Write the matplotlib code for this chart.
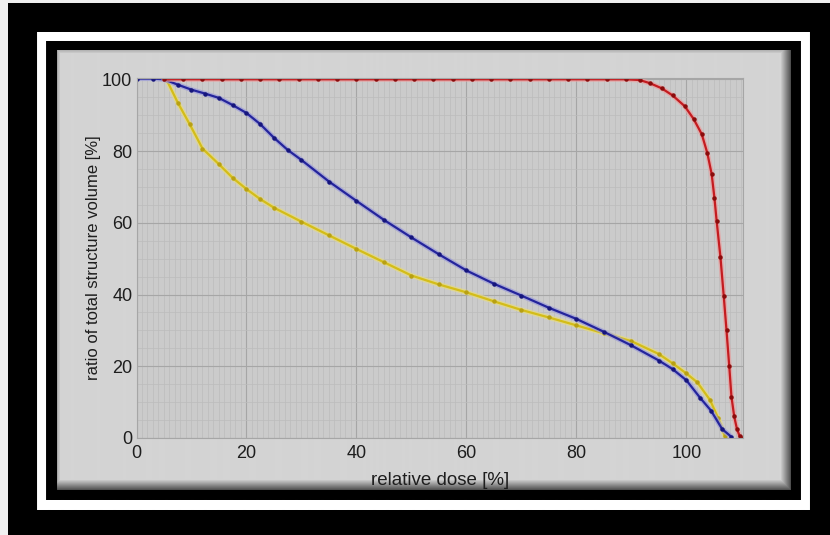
import numpy as np
import matplotlib
matplotlib.use('Agg')
import matplotlib.pyplot as plt
from matplotlib.ticker import MultipleLocator

# dose-volume curves (relative dose [%], volume [%])
red_x = [5, 8.5, 12, 15.5, 19, 22.5, 26, 29.5, 33, 36.5, 40, 43.5, 47, 50.5, 54, 57.5,
         61, 64.5, 68, 71.5, 75, 78.5, 82, 85.5, 89, 91.5, 93.4, 95.5, 97.5, 99.7,
         101.3, 102.8, 103.8, 104.6, 105.1, 105.5, 106.2, 106.8, 107.3, 107.8, 108.2,
         108.7, 109.2, 109.7, 110]
red_y = [100, 100, 100, 100, 100, 100, 100, 100, 100, 100, 100, 100, 100, 100, 100, 100,
         100, 100, 100, 100, 100, 100, 100, 100, 100, 99.8, 98.9, 97.5, 95.5, 92.5,
         89, 84.7, 79.5, 73.6, 67, 60.6, 50.4, 39.5, 30, 20, 11.5,
         6, 2.5, 0.5, 0]

blue_x = [0, 3, 5, 7.5, 10, 12.5, 15, 17.5, 20, 22.5, 25, 27.5, 30, 35, 40, 45, 50, 55,
          60, 65, 70, 75, 80, 85, 90, 95, 97.5, 100, 102.5, 104.5, 106.5, 108.2]
blue_y = [100.2, 100.2, 100, 98.5, 97.1, 96, 94.8, 92.8, 90.6, 87.5, 83.7, 80.3, 77.5,
          71.5, 66.1, 60.8, 55.9, 51.2, 46.7, 43, 39.7, 36.3, 33.2, 29.6, 25.8, 21.6,
          19.2, 16.1, 11.2, 7.6, 2.5, 0.3]

yellow_x = [5.5, 7.5, 9.7, 12, 15, 17.5, 20, 22.5, 25, 30, 35, 40, 45, 50, 55, 60, 65,
            70, 75, 80, 85, 90, 95, 97.5, 100, 102, 104.3, 105.8, 107]
yellow_y = [99.8, 93.5, 87.4, 80.7, 76.3, 72.5, 69.4, 66.6, 64.2, 60.3, 56.5, 52.7, 49,
            45.3, 42.8, 40.6, 38.1, 35.7, 33.6, 31.4, 29.2, 27, 23.4, 20.8, 18, 15.5,
            10.6, 5.5, 0.5]

x_ticks = [0, 20, 40, 60, 80, 100]
y_ticks = [0, 20, 40, 60, 80, 100]

W, H = 830, 535
plt.rcParams['font.family'] = ['Liberation Sans', 'DejaVu Sans']
txt = '#1e1e1e'

fig = plt.figure(figsize=(W / 100, H / 100), dpi=100)

# framed backdrop: black mat, white frame, grey panel with shaded edges
bg = np.zeros((H, W))
bg[:3, :] = 0.94
bg[:, :8] = 0.94
bg[32:510, 37:809] = 1.0
bg[41:500, 46:800] = 0.0
bg[50:490, 57:790] = 0.83
for i in range(10):
    shade = 0.83 - 0.05 * (i + 1)
    bg[50:490, 780 + i] = np.minimum(bg[50:490, 780 + i], shade)
    bg[480 + i, 57:790] = np.minimum(bg[480 + i, 57:790], shade)
for i in range(3):
    bg[50 + i, 57:790] = np.minimum(bg[50 + i, 57:790], 0.7 + 0.04 * i)
    bg[50:490, 57 + i] = np.minimum(bg[50:490, 57 + i], 0.7 + 0.04 * i)
bax = fig.add_axes([0, 0, 1, 1], zorder=-10)
bax.imshow(bg, cmap='gray', vmin=0, vmax=1, aspect='auto', interpolation='bilinear')
bax.axis('off')

ax = fig.add_axes([136.5 / W, 1 - 438 / H, (743 - 136.5) / W, (438 - 77.5) / H])
ax.set_facecolor('#cbcbcb')

ax.set_xlim(0, 110.3)
ax.set_ylim(0, 100.5)
ax.xaxis.set_major_locator(MultipleLocator(10))
ax.xaxis.set_minor_locator(MultipleLocator(1))
ax.yaxis.set_major_locator(MultipleLocator(10))
ax.yaxis.set_minor_locator(MultipleLocator(5))
ax.grid(which='minor', color='#bcbcbc', linewidth=0.5)
ax.grid(which='major', color='#a6a6a6', linewidth=0.8)
ax.set_axisbelow(True)

ax.set_xticks(x_ticks)
ax.set_yticks(y_ticks)
ax.tick_params(which='both', length=0, labelsize=13, labelcolor=txt)
ax.tick_params(axis='x', pad=5)
ax.tick_params(axis='y', pad=3)
for sp in ax.spines.values():
    sp.set_color('#a6a6a6')
    sp.set_linewidth(0.8)

for xs, ys, halo, col, mk in [(yellow_x, yellow_y, '#e6da80', '#d4bd18', '#b8a012'),
                              (blue_x, blue_y, '#9e9ed8', '#24249c', '#16167c'),
                              (red_x, red_y, '#e8a0a0', '#c41c20', '#8a0c0c')]:
    ax.plot(xs, ys, color=halo, linewidth=3.6, alpha=0.75, solid_capstyle='round')
    ax.plot(xs, ys, color=col, linewidth=1.6, marker='o', markersize=2.2,
            markerfacecolor=mk, markeredgecolor=mk)

ax.set_xlabel('relative dose [%]', fontsize=13.5, color=txt, labelpad=7)
ax.set_ylabel('ratio of total structure volume [%]', fontsize=12, color=txt,
              labelpad=1)

fig.savefig('out.png', dpi=100)
